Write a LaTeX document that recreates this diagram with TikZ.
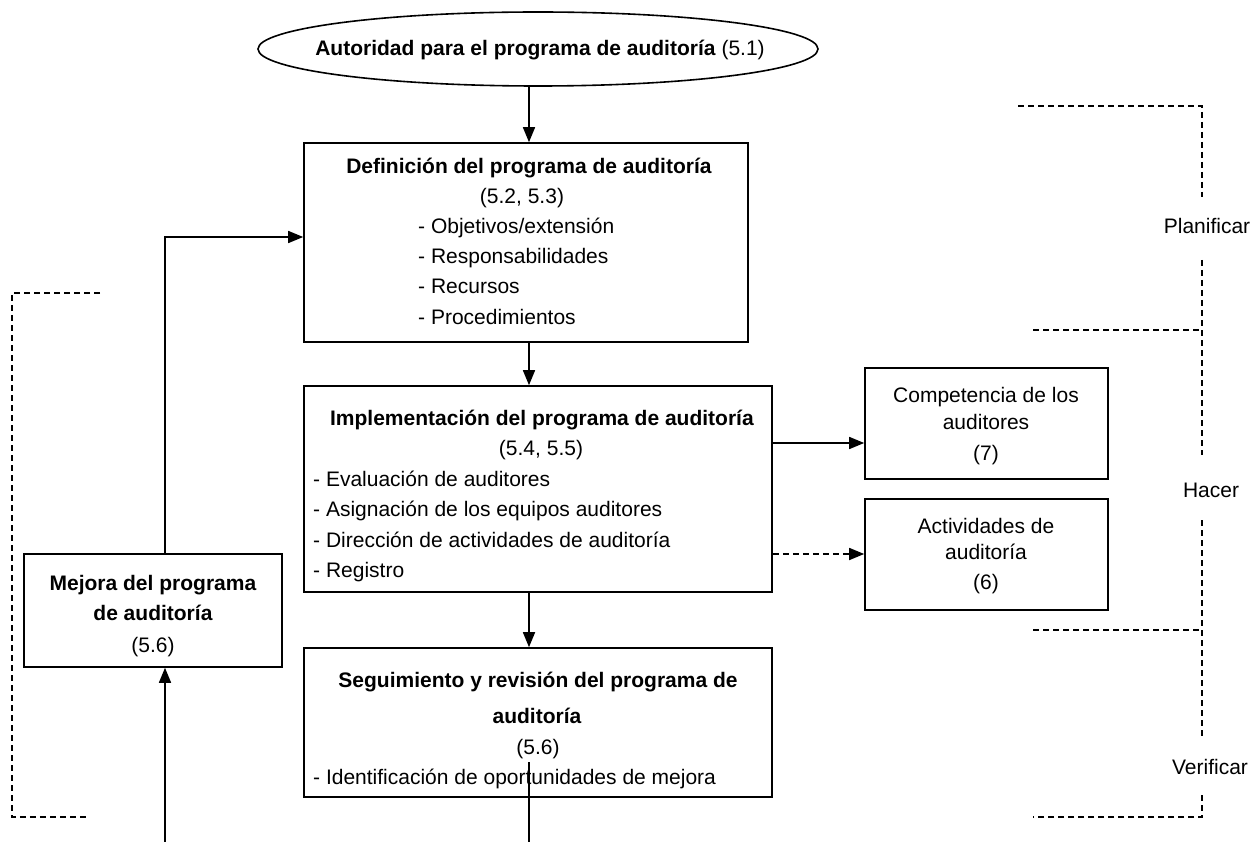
\documentclass[tikz,border=0pt]{standalone}
\usepackage{fontspec}
\setmainfont{Liberation Sans}
\usetikzlibrary{arrows.meta,shapes.geometric}
\begin{document}
\begin{tikzpicture}[x=1pt,y=-1pt,
  every node/.style={font=\fontsize{21}{25}\selectfont, inner sep=0pt},
  box/.style={draw, line width=1.6pt},
  tl/.style={anchor=base},
  tll/.style={anchor=base west},
  arr/.style={line width=1.6pt, -{Triangle[length=15pt,width=12pt]}},
  plain/.style={line width=1.6pt},
  dsh/.style={line width=1.4pt, dash pattern=on 6pt off 4pt}]
\useasboundingbox (0,0) rectangle (1250,842);
% ellipse
\node[draw, ellipse, line width=1.6pt, minimum width=560pt, minimum height=74pt] (auth) at (538,49) {};
\node[tl] (autht) at (540,56) {\textbf{Autoridad para el programa de auditoría} (5.1)};
% boxes
\node[box, minimum width=444pt, minimum height=199pt] (defn) at (526,242.5) {};
\node[box, minimum width=468pt, minimum height=206pt] (impl) at (538,489) {};
\node[box, minimum width=468pt, minimum height=149pt] (seg) at (538,722.5) {};
\node[box, minimum width=258pt, minimum height=113pt] (mej) at (153,610.5) {};
\node[box, minimum width=243pt, minimum height=111pt] (comp) at (986.5,423.5) {};
\node[box, minimum width=243pt, minimum height=111pt] (act) at (986.5,554.5) {};
% texts definicion
\node[tl] (d1) at (529,174) {\textbf{Definición del programa de auditoría}};
\node[tl] (d2) at (522,204) {(5.2, 5.3)};
\node[tll] (d3) at (418,234) {- Objetivos/extensión};
\node[tll] (d4) at (418,264) {- Responsabilidades};
\node[tll] (d5) at (418,294) {- Recursos};
\node[tll] (d6) at (418,324) {- Procedimientos};
% implementacion
\node[tl] (i1) at (542,425) {\textbf{Implementación del programa de auditoría}};
\node[tl] (i2) at (541,455) {(5.4, 5.5)};
\node[tll] (i3) at (313,486) {- Evaluación de auditores};
\node[tll] (i4) at (313,516) {- Asignación de los equipos auditores};
\node[tll] (i5) at (313,547) {- Dirección de actividades de auditoría};
\node[tll] (i6) at (313,577) {- Registro};
% seguimiento
\node[tl] (s1t) at (538,687) {\textbf{Seguimiento y revisión del programa de}};
\node[tl] (s2t) at (537,723) {\textbf{auditoría}};
\node[tl] (s3t) at (538,754) {(5.6)};
\node[tll] (s4t) at (313,784) {- Identificación de oportunidades de mejora};
% mejora
\node[tl] (m1t) at (153,590) {\textbf{Mejora del programa}};
\node[tl] (m2t) at (153,620) {\textbf{de auditoría}};
\node[tl] (m3t) at (153,652) {(5.6)};
% competencia
\node[tl] (c1) at (986,402) {Competencia de los};
\node[tl] (c2) at (986,429) {auditores};
\node[tl] (c3) at (986,460) {(7)};
% actividades
\node[tl] (a1) at (986,533) {Actividades de};
\node[tl] (a2) at (986,559) {auditoría};
\node[tl] (a3) at (986,589) {(6)};
% phase labels
\node[tl] (plan) at (1207,234) {Planificar};
\node[tl] (hac) at (1211,497) {Hacer};
\node[tl] (ver) at (1210,774) {Verificar};
% connectors
\coordinate (xa) at (529,0);
\draw[arr] (auth.south -| xa) -- (defn.north -| xa);
\draw[arr] (defn.south -| xa) -- (impl.north -| xa);
\draw[arr] (impl.south -| xa) -- (seg.north -| xa);
\coordinate (sa) at (529,762);
\coordinate (sb) at (529,842);
\draw[plain] (sa) -- (sb);
\coordinate (ma) at (165,842);
\draw[arr] (ma) -- (mej.south -| ma);
\coordinate (mb) at (165,237);
\draw[arr] (mej.north -| mb) -- (mb) -- (defn.west |- mb);
\coordinate (ra) at (0,443);
\draw[arr] (impl.east |- ra) -- (comp.west |- ra);
\coordinate (rb) at (0,554);
\draw[arr, dash pattern=on 6pt off 4pt] (impl.east |- rb) -- (act.west |- rb);
% dashed brackets right
\draw[dsh] (1018,106) -- (1202,106) -- (1202,197);
\draw[dsh] (1202,260) -- (1202,455);
\draw[dsh] (1033,330) -- (1202,330);
\draw[dsh] (1202,520) -- (1202,738);
\draw[dsh] (1033,630) -- (1202,630);
\draw[dsh] (1202,795) -- (1202,817) -- (1033,817);
% dashed bracket left
\draw[dsh] (100,293) -- (12,293) -- (12,817) -- (88,817);
\end{tikzpicture}
\end{document}
